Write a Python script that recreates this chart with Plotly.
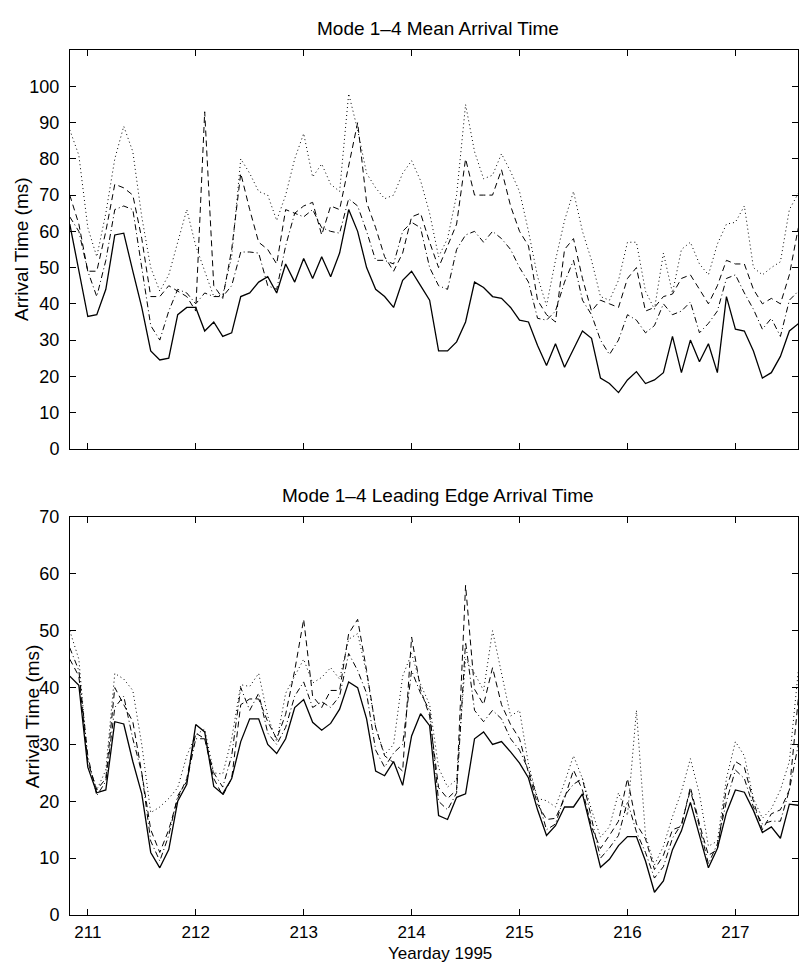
import plotly.graph_objects as go

yearday = [210.833, 210.917,
    211.000, 211.083, 211.167, 211.250, 211.333, 211.417, 211.500, 211.583, 211.667, 211.750, 211.833, 211.917,
    212.000, 212.083, 212.167, 212.250, 212.333, 212.417, 212.500, 212.583, 212.667, 212.750, 212.833, 212.917,
    213.000, 213.083, 213.167, 213.250, 213.333, 213.417, 213.500, 213.583, 213.667, 213.750, 213.833, 213.917,
    214.000, 214.083, 214.167, 214.250, 214.333, 214.417, 214.500, 214.583, 214.667, 214.750, 214.833, 214.917,
    215.000, 215.083, 215.167, 215.250, 215.333, 215.417, 215.500, 215.583, 215.667, 215.750, 215.833, 215.917,
    216.000, 216.083, 216.167, 216.250, 216.333, 216.417, 216.500, 216.583, 216.667, 216.750, 216.833, 216.917,
    217.000, 217.083, 217.167, 217.250, 217.333, 217.417, 217.500, 217.583]

# Mode 1-4 mean arrival time (ms)
mean_solid = [62, 49, 36.5, 37, 44, 59, 59.5, 49, 39, 27, 24.5, 25,
    37, 39, 39, 32.5, 35, 31, 32, 42, 43, 46, 47.5, 43,
    51, 46, 52.5, 47, 53, 47.5, 54, 66, 60, 50, 44, 42,
    39, 46.5, 49, 45, 41, 27, 27, 29.5, 35, 46, 44.5, 42,
    41.5, 39, 35.5, 35, 28.5, 23, 29, 22.5, 27.5, 32.5, 30.5, 19.5,
    18, 15.5, 19, 21.3, 18, 19, 21, 31, 21, 30, 24, 29,
    21, 42, 33, 32.5, 27, 19.5, 21, 25.5, 32.5, 34.5]
mean_dash = [70, 62, 49, 49, 60, 73, 72, 70, 58, 42, 42, 45,
    43.5, 42, 38, 93, 45, 41.5, 55, 76, 66, 57, 55, 51,
    66, 65, 67, 68, 59, 67, 66, 78, 90, 68, 61, 53,
    49, 54, 64, 65, 57, 50, 56, 62, 80, 70, 70, 70,
    77, 67, 60, 56, 41, 37, 35, 55, 58, 47, 38, 41,
    40, 39, 47, 50, 38, 39, 42, 42.7, 47, 48, 44, 40,
    45, 52, 51, 51, 44, 40, 41.5, 40, 48, 61]
mean_dashdot = [64, 60, 49, 42, 52, 66, 67, 66, 50, 34, 30, 38,
    44, 43, 40, 43, 42, 42, 45, 54.3, 54.3, 54, 45, 44,
    56, 65, 64, 66, 61, 60, 59.5, 69, 67, 60, 52, 52,
    51, 60, 62.5, 61, 50, 45, 44, 55, 59, 60, 57, 60,
    58, 55, 50, 46, 36, 35.5, 38, 46, 52, 41, 37, 30,
    26, 30, 37, 35.5, 32, 34, 40, 37, 38, 40.5, 32, 34.6,
    38, 47, 48, 43, 38.5, 33, 36, 31, 41, 43.5]
mean_dot = [88, 81, 61, 53, 65, 80, 89, 82, 64, 50, 43.5, 48,
    57, 66, 56, 49, 42, 42.5, 53, 80, 76, 71, 70, 63,
    70, 80, 87, 75, 78.6, 73, 71, 98, 88, 76, 72, 69,
    70, 76, 79.5, 74, 65, 53, 58, 70, 95, 82, 74.5, 75.5,
    81.4, 76.5, 71, 60, 47.5, 39.5, 52, 63, 71, 60, 52, 42,
    41, 46.5, 57, 57, 43.5, 38.5, 54, 43, 55, 57, 51, 48,
    56.5, 62, 62.5, 67, 50, 48, 50, 51.6, 66, 70.5]

# Mode 1-4 leading edge arrival time (ms)
lead_solid = [42, 40.4, 26, 21.5, 22, 34, 33.6, 27, 21.3, 11, 8.3, 11.5,
    20, 23, 33.5, 32.2, 22.6, 21.3, 24, 30.5, 34.5, 34.5, 30, 28.4,
    31, 36.5, 37.9, 33.9, 32.5, 33.7, 36.2, 41, 40, 34.5, 25.3, 24.5,
    27, 22.8, 31.5, 35.4, 33.3, 17.5, 16.8, 20.7, 21.3, 31, 32.2, 30,
    30.5, 28.7, 26.7, 24.1, 18.5, 14, 15.7, 19, 19, 21.3, 14.8, 8.4,
    9.8, 12.2, 13.8, 13.8, 9.5, 4, 6, 11.5, 14.8, 19.8, 14, 8.3,
    11.7, 18, 22, 21.6, 18.4, 14.5, 15.5, 13.5, 19.5, 19.3]
lead_dash = [45, 42, 27, 22, 24, 40, 37, 34, 25, 15, 11, 15,
    20.5, 24, 32, 31, 24, 21, 24, 37, 38, 38, 34, 31,
    35.3, 43, 52, 38.5, 36.5, 39.5, 39.5, 49.5, 52, 43, 33, 28,
    26.8, 25.3, 48.9, 39.7, 35, 22.4, 20.5, 22, 58, 39.7, 37, 43.5,
    37, 33.5, 31, 25, 19.5, 16.8, 17, 20.5, 25.5, 22, 15.5, 11.7,
    14, 16.5, 24, 16, 13.4, 8, 10.5, 15, 15.6, 22.5, 16, 10.5,
    11.5, 22.4, 27, 26, 20, 15, 17.8, 18.5, 22, 38]
lead_dashdot = [47, 43, 28, 21, 23.5, 36.5, 38.5, 31, 25, 13, 9.5, 14,
    21, 23.5, 31, 31, 25, 22.5, 28, 40, 36, 39, 32, 30,
    33, 38.5, 41, 36.5, 37.5, 36.5, 38.5, 46, 43, 39, 29, 26,
    28.5, 30, 43, 39, 36, 20, 18.5, 21.5, 48, 36, 34, 36,
    34.5, 31, 29, 25.5, 20.5, 15, 16, 21, 23, 24, 17, 10,
    11.8, 14, 20, 14.6, 11, 6.5, 8.5, 13.5, 16, 22, 15.5, 9,
    12.5, 20, 25.5, 24, 19, 16, 16.5, 16.5, 22, 30]
lead_dot = [50, 45, 27, 22, 25.5, 42.5, 41.5, 39.5, 30, 18, 19, 20.5,
    22.4, 28, 31.7, 32.7, 25, 24.8, 31, 40.5, 40.2, 42.5, 35, 30.5,
    39, 42, 45, 40.8, 41.8, 43.5, 41.5, 48.5, 49.5, 42.5, 33, 28.2,
    30, 42, 46, 40.6, 37, 25.9, 22.5, 23.8, 45, 42.5, 39.5, 50,
    42.7, 35, 36, 26.5, 20.5, 20.1, 19, 23.3, 28, 24, 18.5, 13.7,
    15.5, 21.5, 17.5, 36, 14, 8.8, 12.1, 17.3, 21.7, 27.5, 21.3, 12.1,
    13, 24, 30.5, 28, 20.5, 17, 18.7, 22, 27, 43]

xticks = [211, 212, 213, 214, 215, 216, 217]
top_yticks = [0, 10, 20, 30, 40, 50, 60, 70, 80, 90, 100]
bot_yticks = [0, 10, 20, 30, 40, 50, 60, 70]

W, H = 799, 972
FONT = "Liberation Sans, Arial, Helvetica, sans-serif"

fig = go.Figure()

styles = [("solid", 1.3), ("6px,4px", 1.0), ("6px,3px,1px,3px", 1.0), ("1px,3px", 1.0)]
top_series = [mean_solid, mean_dash, mean_dashdot, mean_dot]
bot_series = [lead_solid, lead_dash, lead_dashdot, lead_dot]

for vals, (dash, w) in zip(top_series, styles):
    fig.add_trace(go.Scatter(x=yearday, y=vals, mode="lines", xaxis="x", yaxis="y",
                             line=dict(color="black", width=w, dash=dash), showlegend=False))
for vals, (dash, w) in zip(bot_series, styles):
    fig.add_trace(go.Scatter(x=yearday, y=vals, mode="lines", xaxis="x2", yaxis="y2",
                             line=dict(color="black", width=w, dash=dash), showlegend=False))

axis_common = dict(showgrid=False, zeroline=False, showline=True, linecolor="black", linewidth=1,
                   mirror="ticks", ticks="inside", ticklen=6, tickwidth=1, tickcolor="black")
yfont = dict(family=FONT, size=18, color="black")
xfont = dict(family=FONT, size=17, color="black")

xl, xr = 70 / W, 798 / W
fig.update_layout(
    width=W, height=H,
    margin=dict(l=0, r=0, t=0, b=0),
    paper_bgcolor="white", plot_bgcolor="white",
    xaxis=dict(domain=[xl, xr], range=[210.835, 217.58], tickvals=xticks, showticklabels=False,
               anchor="y", tickfont=xfont, **axis_common),
    yaxis=dict(domain=[1 - 448 / H, 1 - 41 / H], range=[0, 110], tickvals=top_yticks,
               anchor="x", ticklabelstandoff=6, tickfont=yfont, **axis_common),
    xaxis2=dict(domain=[xl, xr], range=[210.835, 217.58], tickvals=xticks,
                anchor="y2", ticklabelstandoff=2, tickfont=xfont, **axis_common),
    yaxis2=dict(domain=[1 - 924 / H, 1 - 517.7 / H], range=[0, 70], tickvals=bot_yticks,
                anchor="x2", ticklabelstandoff=6, tickfont=yfont, **axis_common),
)

tfont = dict(family=FONT, size=19, color="black")
ann = [
    dict(text="Mode 1–4 Mean Arrival Time", x=437.5 / W, y=1 - 19 / H, font=tfont),
    dict(text="Mode 1–4 Leading Edge Arrival Time", x=437.5 / W, y=1 - 496 / H, font=tfont),
    dict(text="Arrival Time (ms)", x=22 / W, y=1 - 244 / H, textangle=-90, font=tfont),
    dict(text="Arrival Time (ms)", x=32 / W, y=1 - 721 / H, textangle=-90, font=tfont),
    dict(text="Yearday 1995", x=440 / W, y=1 - 963 / H,
         font=dict(family=FONT, size=17, color="black")),
]
for a in ann:
    fig.add_annotation(xref="paper", yref="paper", showarrow=False,
                       xanchor="center", yanchor="middle", borderpad=0, **a)

fig.write_html("out.html")
